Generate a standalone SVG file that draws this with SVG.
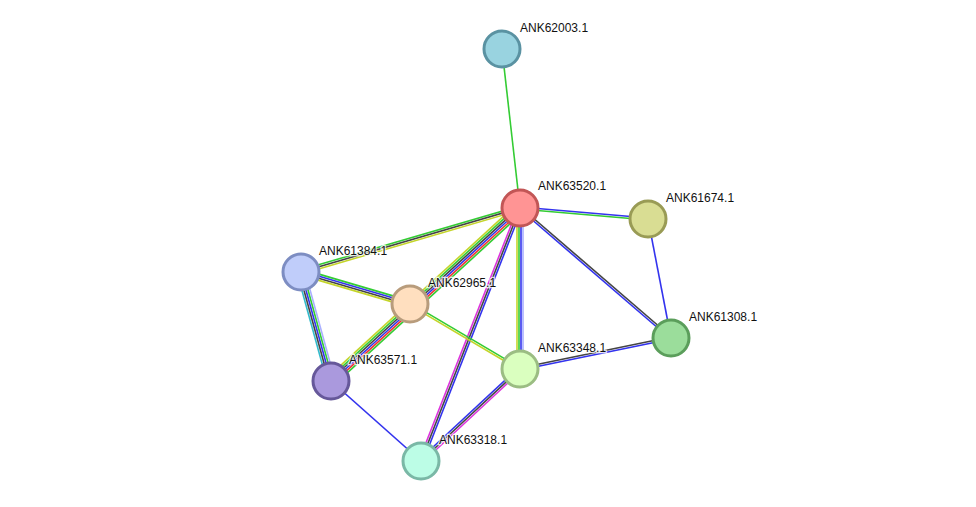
<svg xmlns="http://www.w3.org/2000/svg" width="976" height="507" viewBox="0 0 976 507">
<style>
line{stroke-width:1.6}
.g{stroke:#33cc33}.b{stroke:#3333ee}.k{stroke:#444}.y{stroke:#c4d52a}.m{stroke:#dd33dd}.c{stroke:#33bbcc}.l{stroke:#aab0ff}.r{stroke:#ee3333}
circle{stroke-width:3}
text{font-family:"Liberation Sans",Arial,sans-serif;font-size:12px;fill:#111;stroke:#fff;stroke-width:2.5;paint-order:stroke;stroke-opacity:0.8}
</style>
<rect width="976" height="507" fill="#fff"/>
<g id="edges">
<line class="g" x1="502" y1="49" x2="520" y2="208"/>
<line class="b" x1="520" y1="208" x2="648" y2="219" transform="translate(0.09,-1)"/>
<line class="g" x1="520" y1="208" x2="648" y2="219" transform="translate(-0.09,1)"/>
<line class="k" x1="520" y1="208" x2="671" y2="338" transform="translate(0.65,-0.76)"/>
<line class="b" x1="520" y1="208" x2="671" y2="338" transform="translate(-0.65,0.76)"/>
<line class="b" x1="648" y1="219" x2="671" y2="338"/>
<line class="y" x1="517" y1="208" x2="517" y2="369"/>
<line class="g" x1="519" y1="208" x2="519" y2="369"/>
<line class="b" x1="521" y1="208" x2="521" y2="369"/>
<line class="l" x1="523" y1="208" x2="523" y2="369"/>
<line class="k" x1="520" y1="369" x2="671" y2="338" transform="translate(-0.2,-0.98)"/>
<line class="b" x1="520" y1="369" x2="671" y2="338" transform="translate(0.2,0.98)"/>
<line class="m" x1="520" y1="208" x2="421" y2="461" transform="translate(-1.86,-0.73)"/>
<line class="k" x1="520" y1="208" x2="421" y2="461"/>
<line class="b" x1="520" y1="208" x2="421" y2="461" transform="translate(1.86,0.73)"/>
<line class="b" x1="520" y1="369" x2="421" y2="461" transform="translate(-1.36,-1.47)"/>
<line class="k" x1="520" y1="369" x2="421" y2="461"/>
<line class="m" x1="520" y1="369" x2="421" y2="461" transform="translate(1.36,1.47)"/>
<line class="b" x1="331" y1="381" x2="421" y2="461"/>
<line class="g" x1="520" y1="208" x2="301" y2="272" transform="translate(-0.56,-1.92)"/>
<line class="k" x1="520" y1="208" x2="301" y2="272"/>
<line class="y" x1="520" y1="208" x2="301" y2="272" transform="translate(0.56,1.92)"/>
<line class="g" x1="301" y1="272" x2="410" y2="304" transform="translate(0.85,-2.88)"/>
<line class="b" x1="301" y1="272" x2="410" y2="304" transform="translate(0.28,-0.96)"/>
<line class="k" x1="301" y1="272" x2="410" y2="304" transform="translate(-0.28,0.96)"/>
<line class="y" x1="301" y1="272" x2="410" y2="304" transform="translate(-0.85,2.88)"/>
<line class="c" x1="301" y1="272" x2="331" y2="381" transform="translate(-3.86,1.06)"/>
<line class="k" x1="301" y1="272" x2="331" y2="381" transform="translate(-1.93,0.53)"/>
<line class="b" x1="301" y1="272" x2="331" y2="381"/>
<line class="g" x1="301" y1="272" x2="331" y2="381" transform="translate(1.93,-0.53)"/>
<line class="l" x1="301" y1="272" x2="331" y2="381" transform="translate(3.86,-1.06)"/>
<line class="y" x1="520" y1="208" x2="331" y2="381" transform="translate(-3.38,-3.69)"/>
<line class="g" x1="520" y1="208" x2="331" y2="381" transform="translate(-2.03,-2.21)"/>
<line class="k" x1="520" y1="208" x2="331" y2="381" transform="translate(-0.68,-0.74)"/>
<line class="b" x1="520" y1="208" x2="331" y2="381" transform="translate(0.68,0.74)"/>
<line class="r" x1="520" y1="208" x2="331" y2="381" transform="translate(2.03,2.21)"/>
<line class="g" x1="520" y1="208" x2="331" y2="381" transform="translate(3.38,3.69)"/>
<line class="g" x1="410" y1="304" x2="520" y2="369" transform="translate(0.51,-0.86)"/>
<line class="y" x1="410" y1="304" x2="520" y2="369" transform="translate(-0.51,0.86)"/>
</g>
<g id="n62003"><circle cx="502" cy="49" r="18" fill="#99d3e0" stroke="#5a92a2"/><text x="520" y="32">ANK62003.1</text></g>
<g id="n63520"><circle cx="520" cy="208" r="18" fill="#ff9494" stroke="#c25656"/><text x="538" y="190">ANK63520.1</text></g>
<g id="n61674"><circle cx="648" cy="219" r="18" fill="#d9dd93" stroke="#999b55"/><text x="666" y="202">ANK61674.1</text></g>
<g id="n61384"><circle cx="301" cy="272" r="18" fill="#c0cdfa" stroke="#7d8dc2"/><text x="319" y="255">ANK61384.1</text></g>
<g id="n62965"><circle cx="410" cy="304" r="18" fill="#ffdfbf" stroke="#b89c7c"/><text x="428" y="287">ANK62965.1</text></g>
<g id="n61308"><circle cx="671" cy="338" r="18" fill="#9bdd9b" stroke="#5b9e5b"/><text x="689" y="321">ANK61308.1</text></g>
<g id="n63348"><circle cx="520" cy="369" r="18" fill="#daffbf" stroke="#9bbd83"/><text x="538" y="352">ANK63348.1</text></g>
<g id="n63571"><circle cx="331" cy="381" r="18" fill="#aa99dd" stroke="#66589a"/><text x="349" y="364">ANK63571.1</text></g>
<g id="n63318"><circle cx="421" cy="461" r="18" fill="#bcfde6" stroke="#7ab8a6"/><text x="439" y="444">ANK63318.1</text></g>
</svg>
